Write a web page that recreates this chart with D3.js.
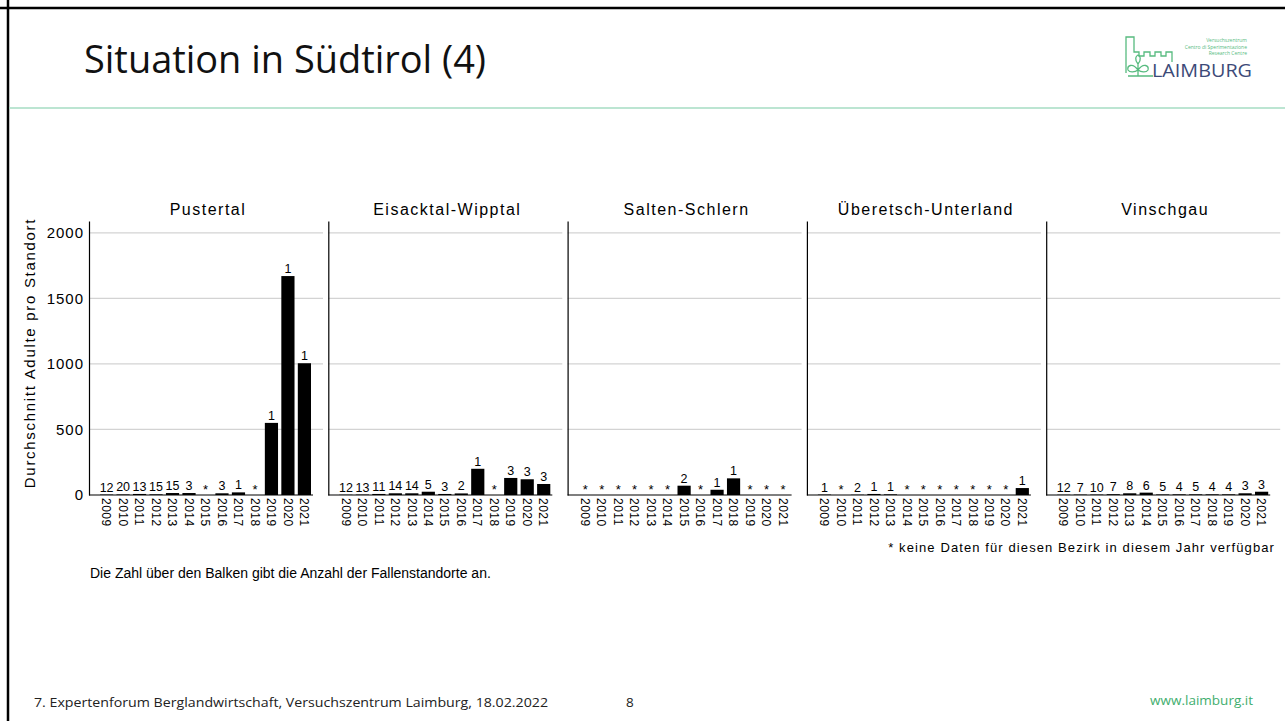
<!DOCTYPE html>
<html>
<head>
<meta charset="utf-8">
<script src="https://cdn.jsdelivr.net/npm/d3@7"></script>
<style>
  body { margin: 0; background: #fff; }
  svg { display: block; }
</style>
</head>
<body>
<svg id="slide" width="1285" height="721"></svg>
<script>
// years shown in every panel
const years = ["2009", "2010", "2011", "2012", "2013", "2014", "2015", "2016", "2017", "2018", "2019", "2020", "2021"];
const districts = ["Pustertal", "Eisacktal-Wipptal", "Salten-Schlern", "Überetsch-Unterland", "Vinschgau"];

// mean adults per trap site, null = no data for that year (*)
const pustertalValues  = [3, 4, 8, 5, 15, 15, null, 13, 20, null, 550, 1670, 1005];
const eisacktalValues  = [2, 3, 8, 13, 13, 25, 8, 12, 200, null, 130, 120, 84];
const saltenValues     = [null, null, null, null, null, null, 71, null, 40, 127, null, null, null];
const ueberetschValues = [3, null, 2, 8, 5, null, null, null, null, null, null, null, 53];
const vinschgauValues  = [2, 3, 3, 6, 13, 18, 4, 5, 5, 5, 5, 13, 25];

// number of trap sites written above the bars
const pustertalSites  = [12, 20, 13, 15, 15, 3, null, 3, 1, null, 1, 1, 1];
const eisacktalSites  = [12, 13, 11, 14, 14, 5, 3, 2, 1, null, 3, 3, 3];
const saltenSites     = [null, null, null, null, null, null, 2, null, 1, 1, null, null, null];
const ueberetschSites = [1, null, 2, 1, 1, null, null, null, null, null, null, null, 1];
const vinschgauSites  = [12, 7, 10, 7, 8, 6, 5, 4, 5, 4, 4, 3, 3];

const yTicks = [0, 500, 1000, 1500, 2000];

const allValues = [pustertalValues, eisacktalValues, saltenValues, ueberetschValues, vinschgauValues];
const allSites = [pustertalSites, eisacktalSites, saltenSites, ueberetschSites, vinschgauSites];

const svg = d3.select("#slide");
const chartFont = "'Liberation Sans', Arial, sans-serif";
const slideFont = "'Open Sans', 'Noto Sans', sans-serif";

// slide frame: top and left border
svg.append("line").attr("x1", 0).attr("x2", 1285).attr("y1", 8).attr("y2", 8)
  .attr("stroke", "#000").attr("stroke-width", 2.5);
svg.append("line").attr("x1", 8).attr("x2", 8).attr("y1", 0).attr("y2", 721)
  .attr("stroke", "#000").attr("stroke-width", 2.5);

// title + separator
const title = svg.append("text")
  .attr("x", 84).attr("y", 73)
  .style("font-family", slideFont).style("font-size", "39px").style("fill", "#111")
  .text("Situation in Südtirol (4)");
if (title.node().getComputedTextLength() > 402) {
  title.attr("textLength", 402).attr("lengthAdjust", "spacingAndGlyphs");
}
svg.append("line").attr("x1", 9).attr("x2", 1285).attr("y1", 108).attr("y2", 108)
  .attr("stroke", "#a6dcc3").attr("stroke-width", 1.5);

// logo
const green = "#57bb7f";
const logo = svg.append("g");
logo.append("path")
  .attr("d", "M1126,73 L1126,37 L1134,37 L1134,52 L1139,52 L1139,56 L1144,56 L1144,52 L1150,52 L1150,56 L1155,56 L1155,52 L1161,52 L1161,56 L1166,56 L1166,52 L1172,52 L1172,62")
  .attr("fill", "none").attr("stroke", green).attr("stroke-width", 1.3);
logo.append("path")
  .attr("d", "M1128,76 L1153,76 M1138,76 L1138,63 M1138,70 C1132,62 1127,66 1128,70 C1130,73 1135,72 1138,70 M1138,70 C1144,62 1149,66 1148,70 C1146,73 1141,72 1138,70 M1138,64 C1134,59 1136,56 1138,55 C1140,56 1142,59 1138,64")
  .attr("fill", "none").attr("stroke", green).attr("stroke-width", 1.3);
logo.append("text").attr("x", 1152).attr("y", 77)
  .style("font-family", slideFont).style("font-size", "19px").style("fill", "#3c4a78")
  .attr("textLength", 100).attr("lengthAdjust", "spacingAndGlyphs")
  .text("LAIMBURG");
[["Versuchszentrum", 42], ["Centro di Sperimentazione", 48.5], ["Research Centre", 55]].forEach(([t, yy]) => {
  logo.append("text").attr("x", 1247).attr("y", yy).attr("text-anchor", "end")
    .style("font-family", slideFont).style("font-size", "5px").style("fill", green)
    .text(t);
});

// chart geometry
const panelLeft = 89, panelPitch = 239.3, panelWidth = 234;
const y = d3.scaleLinear().domain([0, 2090]).range([495, 221]);

districts.forEach((name, i) => {
  const px = panelLeft + i * panelPitch;
  const g = svg.append("g").attr("transform", `translate(${px},0)`);
  const x = d3.scaleBand().domain(years).range([11, panelWidth - 12]).paddingInner(0.2);

  const rows = years.map((yr, k) => ({ year: yr, value: allValues[i][k], sites: allSites[i][k] }));

  // gridlines
  g.selectAll(".grid").data(yTicks.filter(t => t > 0)).join("line")
    .attr("x1", 0).attr("x2", panelWidth)
    .attr("y1", d => y(d)).attr("y2", d => y(d))
    .attr("stroke", "#d3d3d3").attr("stroke-width", 1.3);

  // bars
  g.selectAll(".bar").data(rows.filter(d => d.value !== null)).join("rect")
    .attr("x", d => x(d.year)).attr("width", x.bandwidth())
    .attr("y", d => y(d.value)).attr("height", d => y(0) - y(d.value))
    .attr("fill", "#000");

  // site counts / missing-data stars
  g.selectAll(".lbl").data(rows).join("text")
    .attr("x", d => x(d.year) + x.bandwidth() / 2)
    .attr("y", d => d.value === null ? y(0) - 1 : y(d.value) - 3)
    .attr("text-anchor", "middle")
    .style("font-family", chartFont).style("font-size", d => d.value === null ? "13px" : "12.5px")
    .style("fill", "#000")
    .text(d => d.value === null ? "*" : d.sites);

  // y axis (line for every panel, labels on the first)
  const ya = g.append("g").call(d3.axisLeft(y).tickValues(yTicks).tickFormat(d3.format("d")).tickSize(0).tickPadding(5));
  ya.select(".domain").attr("stroke", "#000").attr("stroke-width", 1.2);
  ya.selectAll("text").style("font-family", chartFont).style("font-size", "15px")
    .style("letter-spacing", "1px").style("fill", "#000");
  if (i > 0) ya.selectAll(".tick text").remove();

  // x axis with rotated year labels
  const xa = g.append("g").attr("transform", `translate(0,${y(0)})`)
    .call(d3.axisBottom(x).tickSize(0));
  xa.select(".domain").remove();
  xa.selectAll("text")
    .attr("transform", "rotate(90)").attr("x", 3).attr("y", 0).attr("dy", "0.36em")
    .style("text-anchor", "start")
    .style("font-family", chartFont).style("font-size", "12px").style("letter-spacing", "0.5px")
    .style("fill", "#000");
  g.append("line").attr("x1", 0).attr("x2", x.range()[1] + 2)
    .attr("y1", y(0)).attr("y2", y(0))
    .attr("stroke", "#000").attr("stroke-width", 1.2);

  // panel title
  g.append("text").attr("x", panelWidth / 2 + 2).attr("y", 215)
    .attr("text-anchor", "middle")
    .style("font-family", chartFont).style("font-size", "16px").style("letter-spacing", "1.5px")
    .style("fill", "#000")
    .text(name);
});

// y axis title
svg.append("text")
  .attr("transform", "translate(35,353) rotate(-90)")
  .attr("text-anchor", "middle")
  .style("font-family", chartFont).style("font-size", "15px").style("letter-spacing", "1.7px")
  .text("Durchschnitt Adulte pro Standort");

// footnote
svg.append("text").attr("x", 1275).attr("y", 552).attr("text-anchor", "end")
  .style("font-family", chartFont).style("font-size", "13px").style("letter-spacing", "1.1px")
  .text("* keine Daten für diesen Bezirk in diesem Jahr verfügbar");

svg.append("text").attr("x", 90).attr("y", 578)
  .style("font-family", chartFont).style("font-size", "14px")
  .text("Die Zahl über den Balken gibt die Anzahl der Fallenstandorte an.");

// slide footer
svg.append("text").attr("x", 34).attr("y", 707)
  .style("font-family", slideFont).style("font-size", "13.5px").style("fill", "#222")
  .attr("textLength", 514).attr("lengthAdjust", "spacingAndGlyphs")
  .text("7. Expertenforum Berglandwirtschaft, Versuchszentrum Laimburg, 18.02.2022");
svg.append("text").attr("x", 626).attr("y", 707)
  .style("font-family", slideFont).style("font-size", "13.5px").style("fill", "#222")
  .text("8");
svg.append("text").attr("x", 1253).attr("y", 705).attr("text-anchor", "end")
  .style("font-family", slideFont).style("font-size", "13.5px").style("fill", "#3fae6e")
  .text("www.laimburg.it");
</script>
</body>
</html>
